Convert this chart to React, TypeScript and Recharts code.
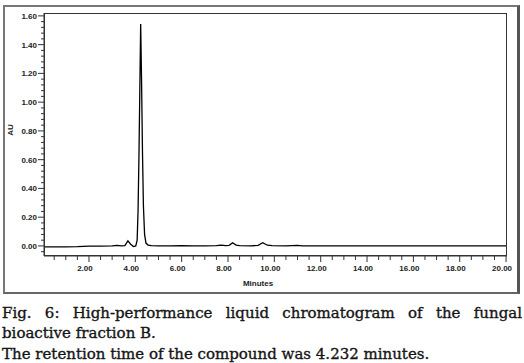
import React from "react";
import { LineChart, Line, XAxis, YAxis } from "recharts";

const times = [0.06, 0.5, 1.0, 1.5, 2.0, 2.5, 3.0, 3.2, 3.4, 3.55, 3.68, 3.8, 3.92, 4.02, 4.08, 4.12, 4.16, 4.2, 4.232, 4.27, 4.31, 4.35, 4.4, 4.46, 4.55, 4.7, 5.0, 5.5, 6.0, 6.5, 7.0, 7.5, 7.7, 7.9, 8.05, 8.2, 8.35, 8.5, 9.0, 9.3, 9.5, 9.7, 9.9, 10.5, 11.0, 11.2, 11.5, 12, 13, 14, 15, 16, 17, 18, 19, 20.04];
const auValues = [-0.006, -0.006, -0.006, -0.005, -0.002, -0.001, 0.0, 0.004, 0.0, 0.002, 0.035, 0.012, -0.004, 0.0, 0.04, 0.25, 0.65, 1.15, 1.544, 1.15, 0.65, 0.28, 0.08, 0.02, 0.006, 0.002, 0.001, 0.001, 0.002, 0.001, 0.001, 0.002, 0.006, 0.002, 0.004, 0.022, 0.006, 0.002, 0.001, 0.004, 0.022, 0.005, 0.002, 0.001, 0.004, 0.001, 0.0, 0.0, 0.0, 0.0, 0.0, 0.0, 0.0, 0.0, 0.0, 0.0];

const xMajorLabels = ["2.00", "4.00", "6.00", "8.00", "10.00", "12.00", "14.00", "16.00", "18.00", "20.00"];
const yMajorLabels = ["0.00", "0.20", "0.40", "0.60", "0.80", "1.00", "1.20", "1.40", "1.60"];

const captionLine1 = "Fig. 6: High-performance liquid chromatogram of the fungal";
const captionLine2 = "bioactive fraction B.";
const captionLine3 = "The retention time of the compound was 4.232 minutes.";

const data = times.map((t, i) => ({ t, au: auValues[i] }));

const xTicks: number[] = [];
for (let i = 1; i <= 40; i++) xTicks.push(i / 2);
const yTicks: number[] = [];
for (let i = -1; i <= 40; i++) yTicks.push(Math.round(i * 4) / 100);

const xMajorVals = xMajorLabels.map(Number);
const yMajorVals = yMajorLabels.map(Number);

const labelStyle = { fontFamily: "Liberation Sans, Arial, sans-serif", fontSize: 8, fontWeight: 700, fill: "#222" };

const XTick = (props: any) => {
  const { x, y, payload } = props;
  const v = payload.value;
  const idx = xMajorVals.findIndex((m) => Math.abs(m - v) < 1e-6);
  const major = idx >= 0;
  return (
    <g>
      <line x1={x} x2={x} y1={y} y2={y + (major ? 6 : 4)} stroke="#333" strokeWidth={1} />
      {major && (
        <text x={x - 4} y={y + 15} textAnchor="middle" {...labelStyle}>
          {xMajorLabels[idx]}
        </text>
      )}
    </g>
  );
};

const YTick = (props: any) => {
  const { x, y, payload } = props;
  const v = payload.value;
  const idx = yMajorVals.findIndex((m) => Math.abs(m - v) < 1e-6);
  const major = idx >= 0;
  return (
    <g>
      <line x1={x - (major ? 6 : 3)} x2={x} y1={y} y2={y} stroke="#333" strokeWidth={1} />
      {major && (
        <text x={x - 7} y={y + 3} textAnchor="end" {...labelStyle}>
          {yMajorLabels[idx]}
        </text>
      )}
    </g>
  );
};

const captionFont = {
  fontFamily: "DejaVu Serif, serif",
  fontSize: 15,
  color: "#151515",
  lineHeight: "20px",
  whiteSpace: "nowrap" as const,
  WebkitTextStroke: "0.35px #151515",
};

export default function App() {
  return (
    <div style={{ position: "absolute", left: 0, top: 0, width: 524, height: 363, background: "#fff", overflow: "hidden" }}>
      <div
        style={{
          position: "absolute",
          left: 3,
          top: 5,
          width: 512,
          height: 285,
          borderLeft: "2px solid #777",
          borderTop: "2px solid #777",
          borderBottom: "2px solid #666",
          borderRight: "3px solid #555",
        }}
      />
      <div style={{ position: "absolute", left: 0, top: 0 }}>
        <LineChart width={524} height={294} data={data} margin={{ top: 13, right: 17, bottom: 0, left: 0 }}>
          <XAxis
            dataKey="t"
            type="number"
            domain={[0.06, 20.04]}
            ticks={xTicks}
            allowDataOverflow
            height={38}
            tickSize={0}
            tickMargin={0}
            tickLine={false}
            tick={<XTick />}
            stroke="#333"
            interval={0}
          />
          <YAxis
            type="number"
            domain={[-0.07, 1.62]}
            ticks={yTicks}
            allowDataOverflow
            width={44}
            tickSize={0}
            tickMargin={0}
            tickLine={false}
            tick={<YTick />}
            stroke="#333"
            interval={0}
          />
          <Line type="linear" dataKey="au" stroke="#000" strokeWidth={1.3} dot={false} isAnimationActive={false} />
        </LineChart>
      </div>
      <div style={{ position: "absolute", left: 44, top: 13, width: 463, height: 243, border: "1px solid #333", boxSizing: "border-box", pointerEvents: "none" }} />
      <svg style={{ position: "absolute", left: 0, top: 0 }} width={524} height={294}>
        <text x={13} y={130} textAnchor="middle" transform="rotate(-90 13 130)" {...labelStyle}>AU</text>
        <text x={258} y={286} textAnchor="middle" {...labelStyle}>Minutes</text>
      </svg>
      <div style={{ ...captionFont, position: "absolute", left: 2, top: 303, width: 520, textAlign: "justify", textAlignLast: "justify" as any, whiteSpace: "normal" }}>
        {captionLine1}
      </div>
      <div style={{ ...captionFont, position: "absolute", left: 2, top: 323 }}>{captionLine2}</div>
      <div style={{ ...captionFont, position: "absolute", left: 2, top: 344 }}>{captionLine3}</div>
    </div>
  );
}
